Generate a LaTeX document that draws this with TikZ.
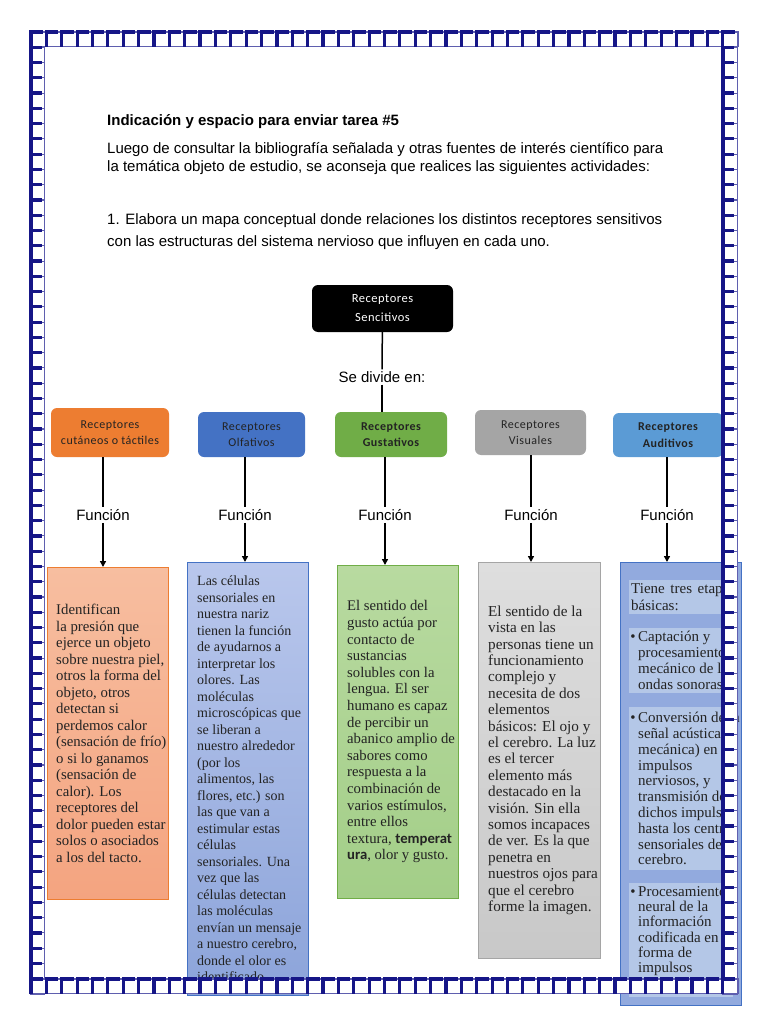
\documentclass[tikz,border=0pt]{standalone}
\usepackage{fontspec}
\setmainfont{Liberation Serif}
\setsansfont{Liberation Sans}
\newfontfamily\calibri{Carlito}
\newfontfamily\calibrisp[LetterSpace=4]{Carlito}
\usepackage{xcolor}
\usetikzlibrary{arrows.meta,positioning,calc}

\definecolor{navy}{RGB}{22,22,135}
\definecolor{rimblue}{RGB}{95,95,175}
\definecolor{catorange}{HTML}{ED7D31}
\definecolor{catblue}{HTML}{4472C4}
\definecolor{catgreen}{HTML}{70AD47}
\definecolor{catgray}{HTML}{A5A5A5}
\definecolor{catsky}{HTML}{5B9BD5}
\definecolor{inkgray}{RGB}{35,35,35}
\definecolor{salmontop}{RGB}{247,190,160}
\definecolor{salmonbot}{RGB}{244,164,128}
\definecolor{lavtop}{RGB}{185,199,236}
\definecolor{lavbot}{RGB}{140,164,218}
\definecolor{mosstop}{RGB}{184,218,160}
\definecolor{mossbot}{RGB}{163,206,136}
\definecolor{ashtop}{RGB}{222,222,222}
\definecolor{ashbot}{RGB}{200,200,200}
\definecolor{audfill}{RGB}{146,170,222}
\definecolor{audblk}{RGB}{180,199,231}

% one square of the page frame: thin rim, heavy top and left edge
\newcommand{\framecell}[4]{%
  \filldraw[fill=white, draw=rimblue, line width=1.1pt] (#1,#2) rectangle ++(#3,#4);
  \draw[navy, line width=3.2pt, line join=miter] (#1,{#2+#4}) -- (#1,#2) -- ({#1+0.78*#3},#2);}

\begin{document}
\begin{tikzpicture}[x=1pt, y=-1pt,
  head/.style={font=\sffamily\fontsize{15}{18}\selectfont, inner sep=0pt, align=left},
  lbl/.style={font=\sffamily\fontsize{15}{18}\selectfont, inner sep=2pt, fill=white},
  topbox/.style={fill=black, text=white, rounded corners=6pt, align=center,
    font=\calibrisp\fontsize{12.5}{19}\selectfont, minimum width=141pt, minimum height=47pt},
  cat/.style={fill=#1, rounded corners=6pt, align=center, text=inkgray,
    font=\calibrisp\fontsize{12}{16.5}\selectfont, inner sep=0pt},
  card/.style={draw=#1, line width=0.6pt, inner sep=0pt},
  body/.style={font=\fontsize{14}{16.5}\selectfont, text=inkgray, align=left, inner sep=0pt},
  blk/.style={fill=audblk, inner sep=0pt, minimum width=104pt},
  conn/.style={line width=1.5pt, black},
  arr/.style={conn, -{Triangle[length=6pt, width=6pt]}}]

\useasboundingbox (0,0) rectangle (768,1024);
\fill[white] (0,0) rectangle (768,1024);

\node[head, anchor=base west] (title) at (107,126) {\bfseries Indicación y espacio para enviar tarea \#5};
\node[head, anchor=base west] (intro) at (107,172) {Luego de consultar la bibliografía señalada y otras fuentes de interés científico para\\la temática objeto de estudio, se aconseja que realices las siguientes actividades:};
\node[head, anchor=base west, font=\sffamily\fontsize{15}{21}\selectfont] (task) at (107,246) {1. Elabora un mapa conceptual donde relaciones los distintos receptores sensitivos\\con las estructuras del sistema nervioso que influyen en cada uno.};

\node[topbox] (top) at (382.5,308.5) {Receptores\\Sencitivos};
\node[lbl] (divide) at (382,377) {Se divide en:};

\node[cat=catorange, minimum width=118pt, minimum height=49pt] (cat1) at (110,432.5) {Receptores\\cutáneos o táctiles};
\node[cat=catblue, minimum width=107pt, minimum height=45pt] (cat2) at (251.5,434.5) {Receptores\\Olfativos};
\node[cat=catgreen, minimum width=112pt, minimum height=45pt, font=\calibrisp\bfseries\fontsize{12}{16.5}\selectfont] (cat3) at (391,434.5) {Receptores\\Gustativos};
\node[cat=catgray, minimum width=111pt, minimum height=45pt] (cat4) at (530.5,432.5) {Receptores\\Visuales};
\node[cat=catsky, minimum width=110pt, minimum height=44pt, font=\calibrisp\bfseries\fontsize{12}{16.5}\selectfont] (cat5) at (668,435) {Receptores\\Auditivos};

\draw[conn] (top) -- (divide);
\draw[conn] (divide) -- (divide |- cat3.north);

\node[lbl] (fun1) at (103,515) {Función};
\node[lbl] (fun2) at (245,515) {Función};
\node[lbl] (fun3) at (385,515) {Función};
\node[lbl] (fun4) at (531,515) {Función};
\node[lbl] (fun5) at (667,515) {Función};

\node[card=catorange, top color=salmontop, bottom color=salmonbot, minimum width=121pt, minimum height=332pt, anchor=north west] (box1) at (47,567) {};
\node[card=catblue, top color=lavtop, bottom color=lavbot, minimum width=121pt, minimum height=433pt, anchor=north west] (box2) at (187,562) {};
\node[card=catgreen, top color=mosstop, bottom color=mossbot, minimum width=121pt, minimum height=333pt, anchor=north west] (box3) at (337,565) {};
\node[card=catgray, top color=ashtop, bottom color=ashbot, minimum width=122pt, minimum height=396pt, anchor=north west] (box4) at (478,562) {};
\node[card=catblue, fill=audfill, minimum width=121pt, minimum height=443pt, anchor=north west] (box5) at (620,562) {};

\foreach \k/\c in {1/cat1,2/cat2,3/cat3,4/cat4,5/cat5}{
  \draw[conn] (\c.south -| fun\k.north) -- (fun\k.north);
  \draw[arr] (fun\k.south) -- (fun\k.south |- box\k.north);
}

\node[body, anchor=west, font=\fontsize{14.8}{16.5}\selectfont] (txt1) at ([xshift=9pt]box1.west) {Identifican\\la presión que\\ejerce un objeto\\sobre nuestra piel,\\otros la forma del\\objeto, otros\\detectan si\\perdemos calor\\(sensación de frío)\\o si lo ganamos\\(sensación de\\calor). Los\\receptores del\\dolor pueden estar\\solos o asociados\\a los del tacto.};
\node[body, anchor=west] (txt2) at ([xshift=10pt]box2.west) {Las células\\sensoriales en\\nuestra nariz\\tienen la función\\de ayudarnos a\\interpretar los\\olores. Las\\moléculas\\microscópicas que\\se liberan a\\nuestro alrededor\\(por los\\alimentos, las\\flores, etc.) son\\las que van a\\estimular estas\\células\\sensoriales. Una\\vez que las\\células detectan\\las moléculas\\envían un mensaje\\a nuestro cerebro,\\donde el olor es\\identificado.};
\node[body, anchor=west, font=\fontsize{14.7}{16.6}\selectfont] (txt3) at ([xshift=10pt]box3.west) {El sentido del\\gusto actúa por\\contacto de\\sustancias\\solubles con la\\lengua. El ser\\humano es capaz\\de percibir un\\abanico amplio de\\sabores como\\respuesta a la\\combinación de\\varios estímulos,\\entre ellos\\textura, {\calibri\bfseries temperat}\\{\calibri\bfseries ura}, olor y gusto.};
\node[body, anchor=west, font=\fontsize{15.2}{16.4}\selectfont] (txt4) at ([xshift=10pt]box4.west) {El sentido de la\\vista en las\\personas tiene un\\funcionamiento\\complejo y\\necesita de dos\\elementos\\básicos: El ojo y\\el cerebro. La luz\\es el tercer\\elemento más\\destacado en la\\visión. Sin ella\\somos incapaces\\de ver. Es la que\\penetra en\\nuestros ojos para\\que el cerebro\\forme la imagen.};

% auditory card: four lighter text blocks
\node[blk, minimum height=34pt, anchor=north west] (blk1) at (629,580) {};
\node[blk, minimum height=65pt, anchor=north west] (blk2) at (629,628) {};
\node[blk, minimum height=163pt, anchor=north west] (blk3) at (629,707) {};
\node[blk, minimum height=114pt, anchor=north west] (blk4) at (629,883) {};
\node[body, anchor=west, font=\fontsize{15}{17}\selectfont] (aud1) at ([xshift=2pt]blk1.west) {\makebox[104pt][s]{Tiene tres etapas}\\básicas:};
\node[body, anchor=west, font=\fontsize{15}{16}\selectfont] (aud2) at ([xshift=9pt]blk2.west) {\llap{\textbullet\,}Captación y\\procesamiento\\mecánico de las\\ondas sonoras.};
\node[body, anchor=west, font=\fontsize{15}{15.8}\selectfont] (aud3) at ([xshift=9pt]blk3.west) {\llap{\textbullet\,}Conversión de la\\señal acústica (o\\mecánica) en\\impulsos\\nerviosos, y\\transmisión de\\dichos impulsos\\hasta los centros\\sensoriales del\\cerebro.};
\node[body, anchor=north west, font=\fontsize{15}{15.3}\selectfont] (aud4) at ([xshift=9pt, yshift=-3pt]blk4.north west) {\llap{\textbullet\,}Procesamiento\\neural de la\\información\\codificada en\\forma de\\impulsos\\nerviosos.};

% page frame
\foreach \i in {0,...,45} {\framecell{31+\i*15.37}{32}{15.37}{14.6}}
\foreach \j in {1,...,62} {\framecell{31}{32+\j*15.27}{13.5}{15.27}}
\foreach \j in {1,...,62} {\framecell{723}{32+\j*15.27}{14.5}{15.27}}
\foreach \i in {0,...,45} {\framecell{31+\i*15.37}{979}{15.37}{14.6}}

\end{tikzpicture}
\end{document}
